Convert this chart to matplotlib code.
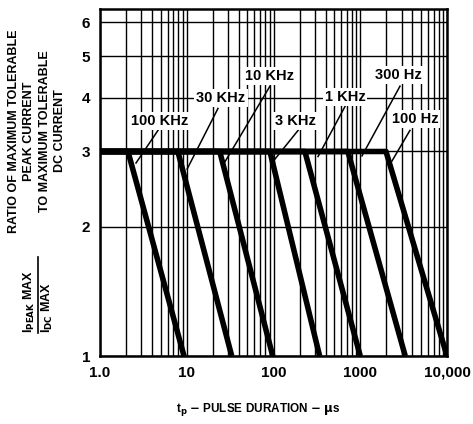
import matplotlib
matplotlib.use("Agg")
import matplotlib.pyplot as plt
from matplotlib.lines import Line2D
from matplotlib.ticker import FixedLocator, LogLocator, NullFormatter, NullLocator

plt.rcParams['font.family'] = ['Liberation Sans', 'DejaVu Sans']
plt.rcParams['font.weight'] = 'bold'
plt.rcParams['mathtext.default'] = 'bf'

# curve data: flat at 3 up to the break, then falls to 1 at the period
freq_labels = ['100 KHz', '30 KHz', '10 KHz', '3 KHz', '1 KHz', '300 Hz', '100 Hz']
t_break = [2.1, 7.9, 24, 91, 230, 720, 1980]      # us, end of the flat part
t_end = [9.3, 33, 98, 340, 1000, 3300, 10000]     # us, where ratio reaches 1
ratio_flat = 3.0
ratio_end = 1.0
t_start = 1.0

# label text centres and leader lines (data coords)
label_x = [4.9, 24.8, 91, 177, 667, 2720, 4280]
label_y = [3.54, 3.99, 4.49, 3.54, 4.03, 4.52, 3.58]
lead_x0 = [4.66, 22.9, 91, 192, 667, 2870, 3740]
lead_y0 = [3.36, 3.78, 4.26, 3.36, 3.82, 4.26, 3.36]
lead_x1 = [2.6, 10.1, 27.6, 104, 326, 1047, 2320]
lead_y1 = [2.82, 2.73, 2.84, 2.88, 2.92, 2.93, 2.85]

x_ticks = [1, 10, 100, 1000, 10000]
x_ticklabels = ['1.0', '10', '100', '1000', '10,000']
y_ticks = [1, 2, 3, 4, 5, 6]

W, H = 473, 424
fig = plt.figure(figsize=(W / 100, H / 100), dpi=100)
ax = fig.add_axes([100 / W, 1 - 356 / H, 347 / W, 347 / H])

ax.set_xscale('log')
ax.set_yscale('log')
ax.set_xlim(1, 10000)
ax.set_ylim(1, 6.45)

ax.xaxis.set_major_locator(FixedLocator(x_ticks))
ax.xaxis.set_minor_locator(LogLocator(base=10, subs=range(2, 10)))
ax.xaxis.set_minor_formatter(NullFormatter())
ax.set_xticklabels(x_ticklabels)
ax.yaxis.set_major_locator(FixedLocator(y_ticks))
ax.yaxis.set_minor_locator(NullLocator())
ax.yaxis.set_minor_formatter(NullFormatter())
ax.set_yticklabels([str(v) for v in y_ticks])

ax.grid(True, which='both', axis='x', color='black', linewidth=1.0)
ax.grid(True, which='major', axis='y', color='black', linewidth=1.0)
ax.tick_params(which='both', length=0)
ax.tick_params(axis='x', pad=7, labelsize=11)
ax.tick_params(axis='y', pad=7, labelsize=11)
for s in ax.spines.values():
    s.set_linewidth(1.8)

for tb, te in zip(t_break, t_end):
    ax.plot([t_start, tb, te], [ratio_flat, ratio_flat, ratio_end],
            color='black', linewidth=4.0, solid_capstyle='butt', zorder=3)

for txt, lx, ly, x0, y0, x1, y1 in zip(freq_labels, label_x, label_y,
                                       lead_x0, lead_y0, lead_x1, lead_y1):
    ax.plot([x0, x1], [y0, y1], color='black', linewidth=1.1, zorder=4)
    ax.text(lx, ly, txt, ha='center', va='center', fontsize=10.5,
            fontweight='bold', zorder=5,
            bbox=dict(facecolor='white', edgecolor='none', pad=1.5))

fig.text(37 / W, 1 - 131 / H,
         'RATIO OF MAXIMUM TOLERABLE\nPEAK CURRENT\nTO MAXIMUM TOLERABLE\nDC CURRENT',
         rotation=90, ha='center', va='center', multialignment='center',
         fontsize=9, fontweight='bold', linespacing=1.38)

fig.text(29 / W, 1 - 333 / H, r'I$_{PEAK}$ MAX', rotation=90,
         ha='center', va='bottom', fontsize=9, fontweight='bold')
fig.text(47 / W, 1 - 333 / H, r'I$_{DC}$ MAX', rotation=90,
         ha='center', va='bottom', fontsize=9, fontweight='bold')
fig.add_artist(Line2D([38 / W, 38 / W], [1 - 257 / H, 1 - 333 / H],
                      color='black', linewidth=1.2))

fig.text(258 / W, 1 - 409 / H, r't$_p$ $-$ PULSE DURATION $-$ $\mu$s',
         ha='center', va='center', fontsize=8.5, fontweight='bold')

fig.savefig('out.png', dpi=100)
